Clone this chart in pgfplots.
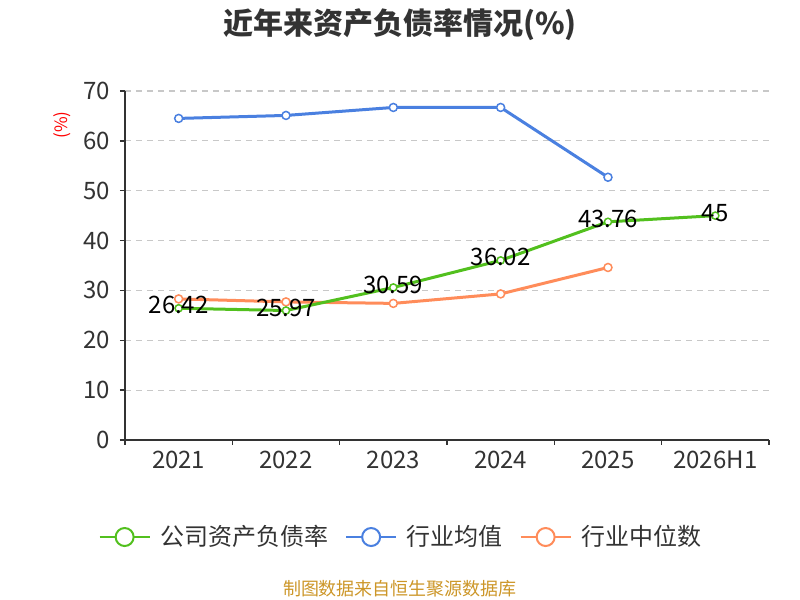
\documentclass[border=0pt]{standalone}
\usepackage{fontspec}
\setmainfont{Noto Sans CJK SC}
\usepackage{pgfplots}
\pgfplotsset{compat=1.18}
\definecolor{cgreen}{RGB}{82,192,30}
\definecolor{cblue}{RGB}{74,128,224}
\definecolor{corange}{RGB}{255,140,90}
\definecolor{axisgray}{RGB}{51,51,51}
\definecolor{textgray}{RGB}{51,51,51}
\definecolor{gridgray}{RGB}{200,200,200}
\definecolor{srcgold}{RGB}{204,150,40}
\begin{document}
\begin{tikzpicture}[x=1pt,y=1pt]
\path[use as bounding box] (0,0) rectangle (400,300);
\node[font=\bfseries\fontsize{15}{17}\selectfont, text=textgray] at (200,287.5) {近年来资产负债率情况(\%)};
\node[font=\fontsize{9}{10}\selectfont, text=srcgold] at (200,5.5) {制图数据来自恒生聚源数据库};
\node[rotate=90, text=red, font=\fontsize{8.5}{10}\selectfont] at (31,237.5) {(\%)};
\begin{axis}[at={(62.5pt,80pt)}, anchor=south west, scale only axis,
  width=322pt, height=174.5pt,
  xmin=-0.5, xmax=5.5, ymin=0, ymax=70,
  axis x line*=bottom, axis y line*=left,
  axis line style={axisgray, line width=0.75pt, -},
  tick align=outside, major tick length=2.5pt,
  tick style={axisgray, line width=0.75pt},
  xtick={-0.5,0.5,1.5,2.5,3.5,4.5,5.5}, xticklabels={},
  extra x ticks={0,1,2,3,4,5},
  extra x tick labels={2021,2022,2023,2024,2025,2026H1},
  extra x tick style={major tick length=0pt},
  ytick={0,10,20,30,40,50,60,70},
  ymajorgrids, grid style={gridgray, line width=0.6pt, dash pattern=on 3pt off 2.5pt},
  ticklabel style={font=\fontsize{12}{14}\selectfont, text=textgray},
  /pgf/number format/assume math mode=true,
  yticklabel style={xshift=-1.5pt},
  xticklabel style={yshift=-2pt},
  legend style={at={(0.43,-0.278)}, anchor=center, draw=none, fill=none,
    legend columns=3, font=\fontsize{12}{14}\selectfont, text=textgray,
    /tikz/every odd column/.append style={column sep=2.75pt},
    /tikz/every even column/.append style={column sep=6.5pt}},
  legend cell align=left,
]
\addplot[corange, line width=1.5pt, mark=*, mark size=2pt,
  mark options={fill=white, line width=0.75pt}, forget plot]
  coordinates {(0,28.3) (1,27.7) (2,27.4) (3,29.3) (4,34.6)};
\addplot[cblue, line width=1.5pt, mark=*, mark size=2pt,
  mark options={fill=white, line width=0.75pt}, forget plot]
  coordinates {(0,64.5) (1,65.1) (2,66.7) (3,66.7) (4,52.7)};
\addplot[cgreen, line width=1.5pt, mark=*, mark size=1.8pt,
  mark options={fill=white, line width=0.75pt}, forget plot,
  nodes near coords, point meta=explicit symbolic,
  every node near coord/.append style={anchor=center, yshift=1.5pt,
    font=\fontsize{12}{14}\selectfont, text=black}]
  coordinates {(0,26.42)[26.42] (1,25.97)[25.97] (2,30.59)[30.59] (3,36.02)[36.02] (4,43.76)[43.76] (5,45)[45]};
\addlegendimage{legend image code/.code={
  \draw[cgreen, line width=1pt] (0pt,0pt) -- (25pt,0pt);
  \draw[cgreen, fill=white, line width=1pt] (12.5pt,0pt) circle (4.5pt);}}
\addlegendentry{公司资产负债率}
\addlegendimage{legend image code/.code={
  \draw[cblue, line width=1pt] (0pt,0pt) -- (25pt,0pt);
  \draw[cblue, fill=white, line width=1pt] (12.5pt,0pt) circle (4.5pt);}}
\addlegendentry{行业均值}
\addlegendimage{legend image code/.code={
  \draw[corange, line width=1pt] (0pt,0pt) -- (25pt,0pt);
  \draw[corange, fill=white, line width=1pt] (12.5pt,0pt) circle (4.5pt);}}
\addlegendentry{行业中位数}
\end{axis}
\end{tikzpicture}
\end{document}
